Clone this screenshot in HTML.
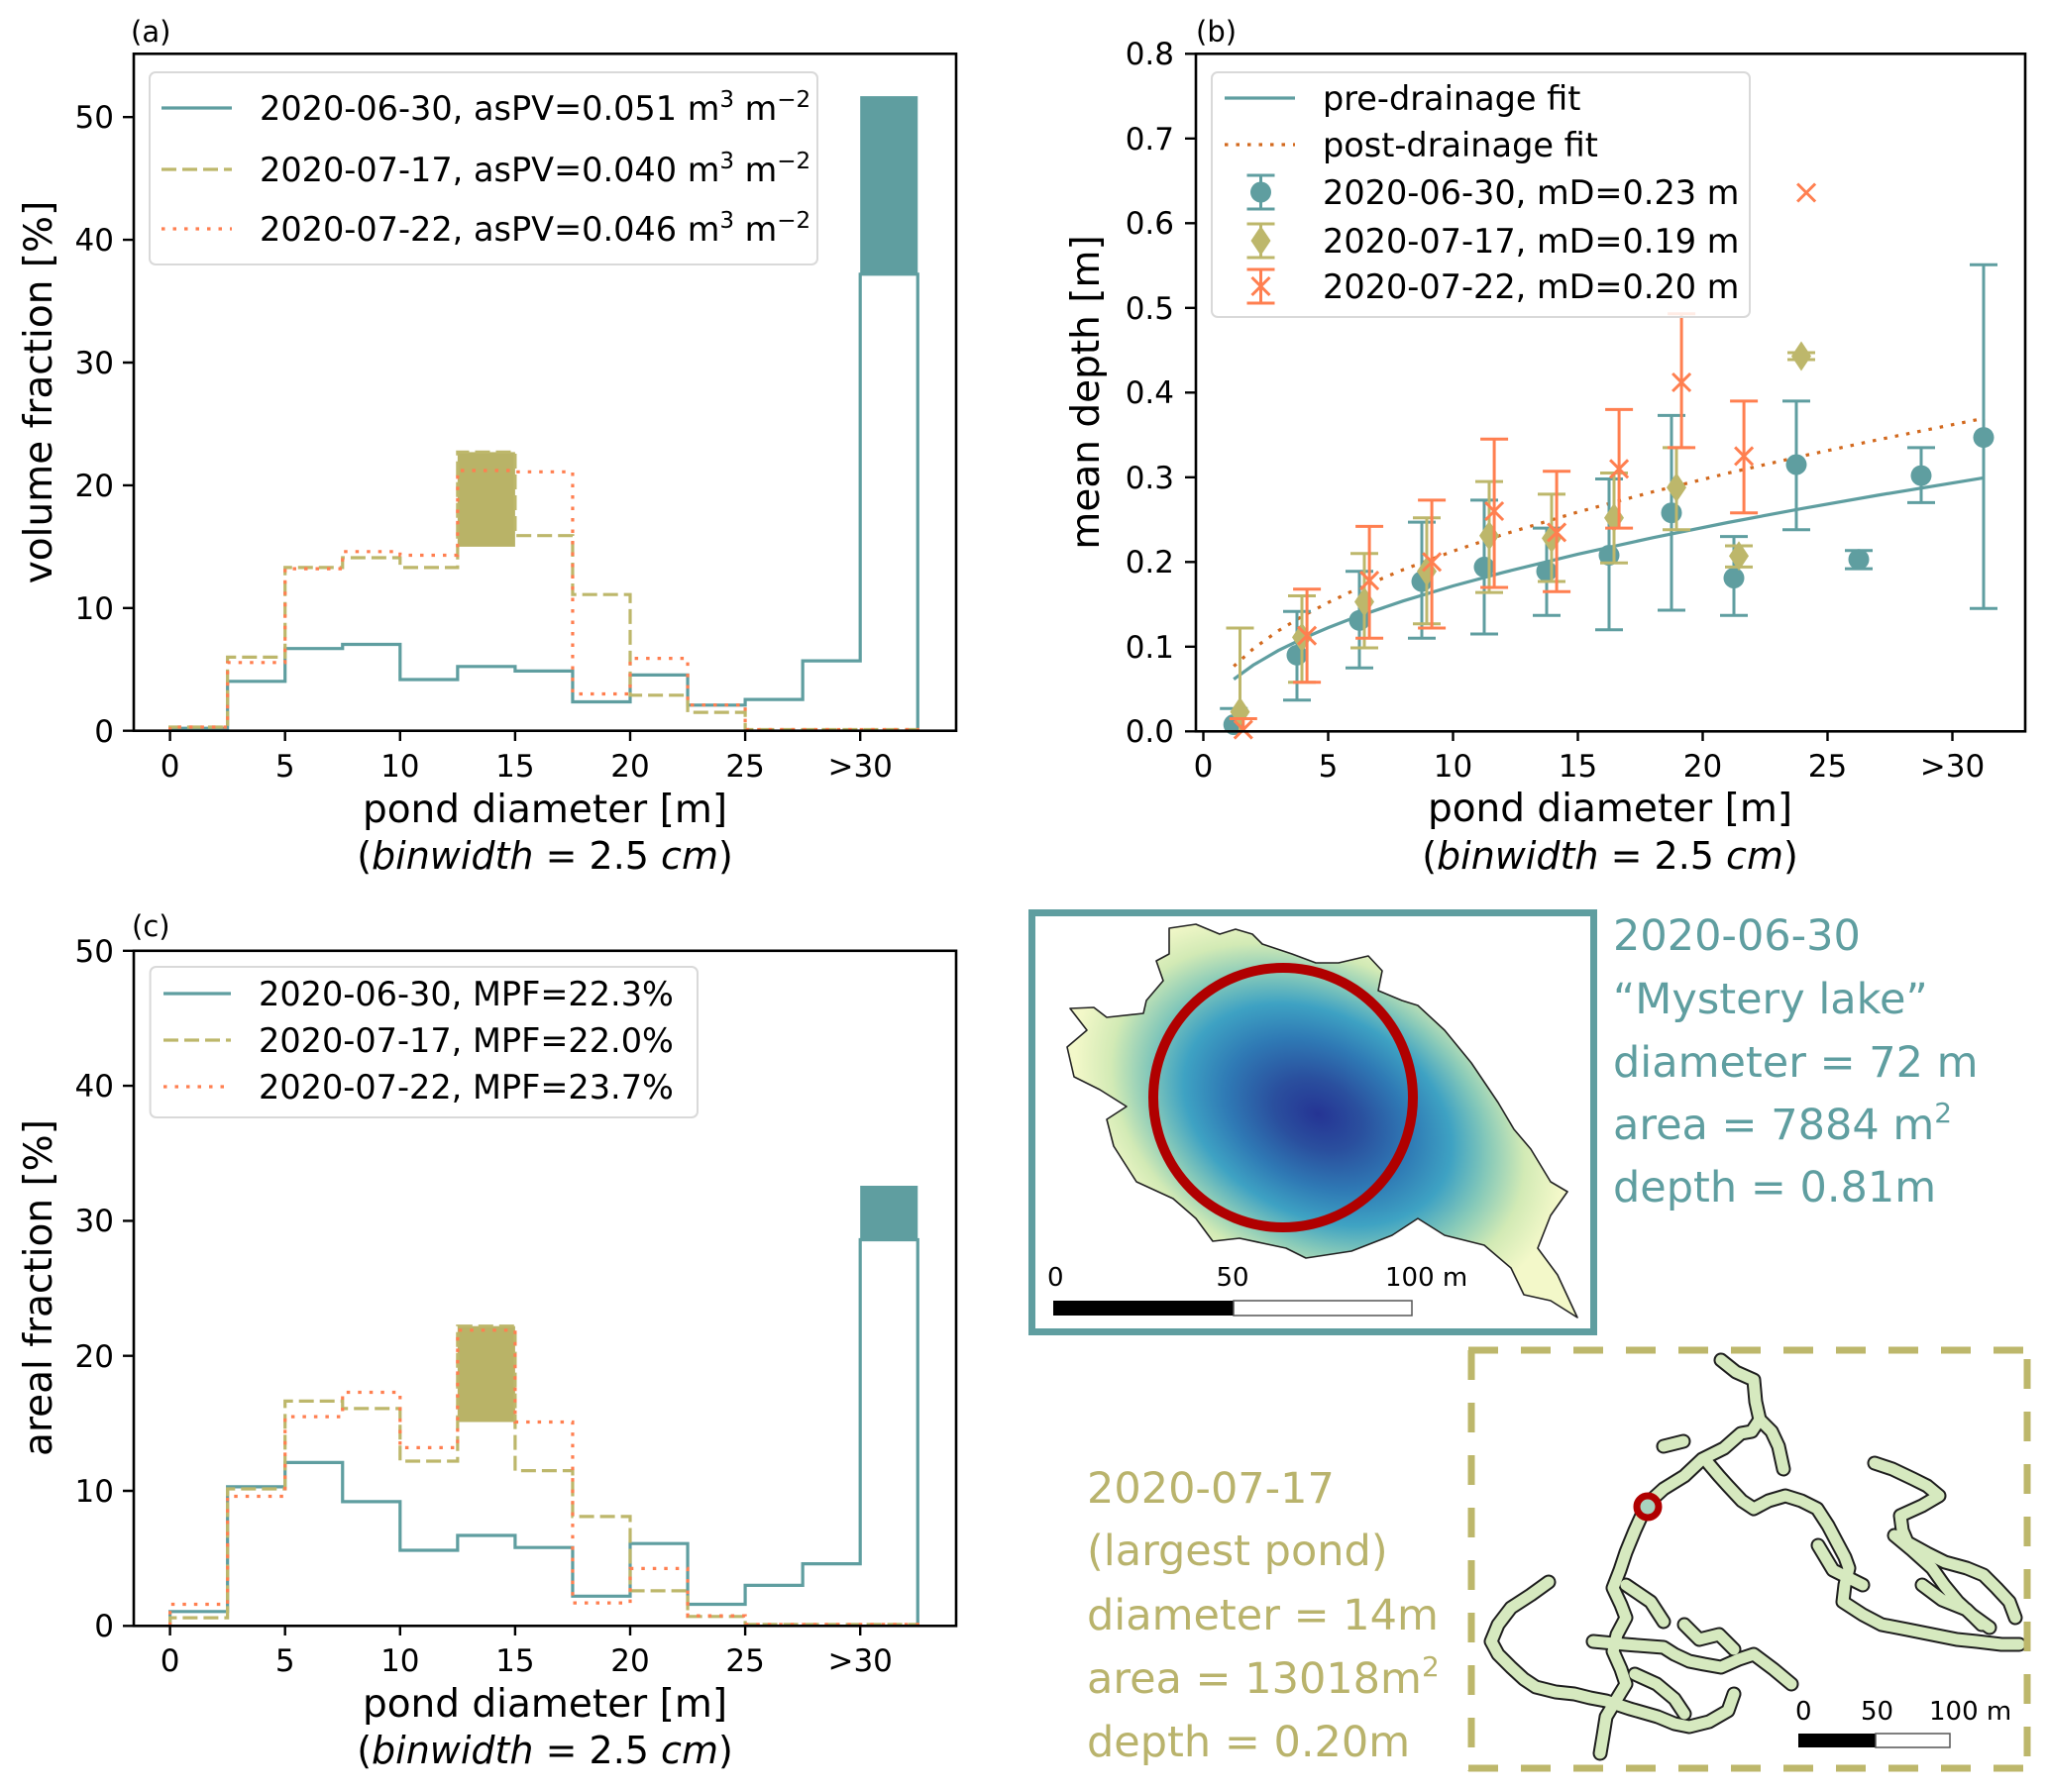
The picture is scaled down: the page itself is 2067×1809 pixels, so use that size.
<!DOCTYPE html>
<html><head><meta charset="utf-8"><style>
html,body{margin:0;padding:0;background:#fff;}
svg{display:block;}
text{font-family:"DejaVu Sans","Liberation Sans",sans-serif;}
</style></head><body>
<svg width="2067" height="1809" viewBox="0 0 2067 1809" xmlns="http://www.w3.org/2000/svg">
<defs>
<path id="dia" d="M0,-15L10,0L0,15L-10,0Z" fill="#bdb76b"/>
<path id="xm" d="M-9,-9L9,9M-9,9L9,-9" stroke="#ff7f50" stroke-width="3" fill="none"/>
<radialGradient id="g1" gradientUnits="userSpaceOnUse" cx="1330" cy="1125" r="200" gradientTransform="translate(1330 1125) rotate(28) scale(1.3 0.92) translate(-1330 -1125)">
<stop offset="0" stop-color="#253494"/><stop offset="0.18" stop-color="#2a4f9e"/><stop offset="0.38" stop-color="#2f7ab5"/><stop offset="0.55" stop-color="#3ea2c3"/><stop offset="0.7" stop-color="#86c9b9"/><stop offset="0.85" stop-color="#d2eab5"/><stop offset="1" stop-color="#f3f8c9"/>
</radialGradient>
</defs>
<rect width="2067" height="1809" fill="#fff"/>

<!-- ================= PANEL (a) ================= -->
<text x="132" y="42" font-size="29">(a)</text>
<g fill="none" stroke-width="3.2">
<rect x="868.2" y="97.1" width="58.05" height="179.7" fill="#5f9ea0" stroke="none"/>
<path d="M171.6,737.7 V735.2 H229.65 V687.8 H287.7 V654.7 H345.75 V650.5 H403.8 V686.0 H461.85 V672.8 H519.9 V677.4 H577.95 V708.5 H636 V681.4 H694.05 V711.8 H752.1 V706.1 H810.15 V667.1 H868.2 V276.8 H926.25 V737.7" stroke="#5f9ea0"/>
<rect x="461.85" y="456.4" width="58.05" height="95.5" fill="#b9b367" stroke="none"/>
<path d="M171.6,737.7 V734.0 H229.65 V663.4 H287.7 V572.9 H345.75 V563.0 H403.8 V572.9 H461.85 V456.4 H519.9 V540.7 H577.95 V600.2 H636 V701.8 H694.05 V719.1 H752.1 V736.5 H926.25 V737.7" stroke="#bdb76b" stroke-dasharray="15 6"/>
<path d="M171.6,737.7 V734.0 H229.65 V668.8 H287.7 V574.1 H345.75 V556.8 H403.8 V560.5 H461.85 V475.0 H519.9 V476.3 H577.95 V700.5 H636 V664.6 H694.05 V711.7 H752.1 V736.5 H926.25 V737.7" stroke="#ff7f50" stroke-dasharray="3.5 8"/>
</g>
<rect x="135" y="54.3" width="830" height="683.4" fill="none" stroke="#000" stroke-width="2.6"/>
<g stroke="#000" stroke-width="2.4">
<path d="M171.6,738v10M287.7,738v10M403.8,738v10M519.9,738v10M636,738v10M752.1,738v10M868.2,738v10"/>
<path d="M124,737.7h11M124,613.8h11M124,489.9h11M124,366h11M124,242.1h11M124,118.2h11"/>
</g>
<g font-size="31" text-anchor="middle">
<text x="171.6" y="784">0</text><text x="287.7" y="784">5</text><text x="403.8" y="784">10</text><text x="519.9" y="784">15</text><text x="636" y="784">20</text><text x="752.1" y="784">25</text><text x="868.2" y="784">&gt;30</text>
</g>
<g font-size="31" text-anchor="end">
<text x="115" y="749">0</text><text x="115" y="625">10</text><text x="115" y="501">20</text><text x="115" y="377">30</text><text x="115" y="253">40</text><text x="115" y="129">50</text>
</g>
<text x="550" y="830" font-size="39" text-anchor="middle">pond diameter [m]</text>
<text x="550" y="877" font-size="38" text-anchor="middle">(<tspan font-style="italic">binwidth</tspan> = 2.5 <tspan font-style="italic">cm</tspan>)</text>
<text transform="translate(52 396) rotate(-90)" font-size="39" text-anchor="middle">volume fraction [%]</text>
<rect x="151" y="73" width="674" height="194" rx="6" fill="#fff" fill-opacity="0.85" stroke="#d9d9d9" stroke-width="2"/>
<path d="M163,109H234" stroke="#5f9ea0" stroke-width="3.2"/>
<path d="M163,171H234" stroke="#bdb76b" stroke-width="3.2" stroke-dasharray="15 6"/>
<path d="M163,231H234" stroke="#ff7f50" stroke-width="3.2" stroke-dasharray="3.5 8"/>
<g font-size="33.5">
<text x="262" y="121">2020-06-30, asPV=0.051 m<tspan font-size="23" dy="-13">3</tspan><tspan dy="13"> m</tspan><tspan font-size="23" dy="-13">−2</tspan></text>
<text x="262" y="183">2020-07-17, asPV=0.040 m<tspan font-size="23" dy="-13">3</tspan><tspan dy="13"> m</tspan><tspan font-size="23" dy="-13">−2</tspan></text>
<text x="262" y="243">2020-07-22, asPV=0.046 m<tspan font-size="23" dy="-13">3</tspan><tspan dy="13"> m</tspan><tspan font-size="23" dy="-13">−2</tspan></text>
</g>

<!-- ================= PANEL (b) ================= -->
<text x="1207" y="42" font-size="29">(b)</text>
<polyline fill="none" stroke="#5f9ea0" stroke-width="3.2" points="1245.2,685.7 1264.9,671.4 1290.1,656.7 1315.3,644.4 1340.5,633.6 1365.7,623.9 1416.1,606.7 1466.5,591.5 1516.9,577.9 1592.5,559.4 1668.1,542.8 1743.7,527.5 1819.3,513.3 1894.9,500 2003.3,482.2"/>
<polyline fill="none" stroke="#d2691e" stroke-width="3.2" stroke-dasharray="3.5 8" points="1245.2,672.6 1264.9,654.9 1290.1,636.8 1315.3,621.6 1340.5,608.3 1365.7,596.3 1416.1,575.1 1466.5,556.4 1516.9,539.6 1592.5,516.9 1668.1,496.5 1743.7,477.7 1819.3,460.3 1894.9,444 2003.3,422.1"/>
<g stroke="#5f9ea0" stroke-width="3" fill="none">
<path d="M1245.2,738.3V715.2M1231.2,715.2h28"/>
<path d="M1309,706.7V617.3M1295,706.7h28M1295,617.3h28"/>
<path d="M1372,674.2V576.7M1358,674.2h28M1358,576.7h28"/>
<path d="M1435,644.3V527.1M1421,644.3h28M1421,527.1h28"/>
<path d="M1498,640V504.9M1484,640h28M1484,504.9h28"/>
<path d="M1561,621.2V533.1M1547,621.2h28M1547,533.1h28"/>
<path d="M1624,635.7V483.5M1610,635.7h28M1610,483.5h28"/>
<path d="M1687,616V419.4M1673,616h28M1673,419.4h28"/>
<path d="M1750,621.2V541.6M1736,621.2h28M1736,541.6h28"/>
<path d="M1813,534.8V404.9M1799,534.8h28M1799,404.9h28"/>
<path d="M1876,574.1V555.8M1862,574.1h28M1862,555.8h28"/>
<path d="M1939,507.4V451.9M1925,507.4h28M1925,451.9h28"/>
<path d="M2002,614.3V267.2M1988,614.3h28M1988,267.2h28"/>
</g>
<g fill="#5f9ea0">
<circle cx="1245.2" cy="731.5" r="10.5"/><circle cx="1309" cy="661.35" r="10.5"/><circle cx="1372" cy="626.3" r="10.5"/><circle cx="1435" cy="587" r="10.5"/><circle cx="1498" cy="572.4" r="10.5"/><circle cx="1561" cy="576.7" r="10.5"/><circle cx="1624" cy="560.5" r="10.5"/><circle cx="1687" cy="517.7" r="10.5"/><circle cx="1750" cy="583.5" r="10.5"/><circle cx="1813" cy="469" r="10.5"/><circle cx="1876" cy="564.7" r="10.5"/><circle cx="1939" cy="480.1" r="10.5"/><circle cx="2002" cy="441.6" r="10.5"/>
</g>
<g stroke="#bdb76b" stroke-width="3" fill="none">
<path d="M1251.5,738.3V634M1237.5,634h28"/>
<path d="M1314,688.7V601.5M1300,688.7h28M1300,601.5h28"/>
<path d="M1377,654V558.8M1363,654h28M1363,558.8h28"/>
<path d="M1440,629.7V522.8M1426,629.7h28M1426,522.8h28"/>
<path d="M1503,598.1V486.1M1489,598.1h28M1489,486.1h28"/>
<path d="M1566,587V498.9M1552,587h28M1552,498.9h28"/>
<path d="M1629,568.2V477.5M1615,568.2h28M1615,477.5h28"/>
<path d="M1692,534.8V451.9M1678,534.8h28M1678,451.9h28"/>
<path d="M1755,572.4V551M1741,572.4h28M1741,551h28"/>
<path d="M1818,363V356M1804,363h28M1804,356h28"/>
</g>
<use href="#dia" x="1251.5" y="718.6"/><use href="#dia" x="1314" y="643.4"/><use href="#dia" x="1377" y="607.5"/><use href="#dia" x="1440" y="576.7"/><use href="#dia" x="1503" y="540.8"/><use href="#dia" x="1566" y="543.4"/><use href="#dia" x="1629" y="522.8"/><use href="#dia" x="1692" y="492.1"/><use href="#dia" x="1755" y="561.3"/><use href="#dia" x="1818" y="359.5"/>
<g stroke="#ff7f50" stroke-width="3" fill="none">
<path d="M1254.8,738.3V725.5M1240.8,725.5h28"/>
<path d="M1319.1,688.7V594.7M1305.1,688.7h28M1305.1,594.7h28"/>
<path d="M1382.1,644.3V531.4M1368.1,644.3h28M1368.1,531.4h28"/>
<path d="M1445.1,634V504.9M1431.1,634h28M1431.1,504.9h28"/>
<path d="M1508.1,593V443.3M1494.1,593h28M1494.1,443.3h28"/>
<path d="M1571.1,597.2V475.8M1557.1,597.2h28M1557.1,475.8h28"/>
<path d="M1634.1,533.1V413.4M1620.1,533.1h28M1620.1,413.4h28"/>
<path d="M1697.1,451.9V316.8M1683.1,451.9h28M1683.1,316.8h28"/>
<path d="M1760.1,517.7V404.9M1746.1,517.7h28M1746.1,404.9h28"/>
</g>
<use href="#xm" x="1254.8" y="736.6"/><use href="#xm" x="1319.1" y="641.7"/><use href="#xm" x="1382.1" y="586.1"/><use href="#xm" x="1445.1" y="567.3"/><use href="#xm" x="1508.1" y="516"/><use href="#xm" x="1571.1" y="537.4"/><use href="#xm" x="1634.1" y="473.3"/><use href="#xm" x="1697.1" y="386"/><use href="#xm" x="1760.1" y="460.4"/><use href="#xm" x="1823.1" y="194.5"/>
<rect x="1207" y="54.3" width="837" height="684" fill="none" stroke="#000" stroke-width="2.6"/>
<g stroke="#000" stroke-width="2.4">
<path d="M1214.5,738v10M1340.5,738v10M1466.5,738v10M1592.5,738v10M1718.5,738v10M1844.5,738v10M1970.5,738v10"/>
<path d="M1196,738.3h11M1196,652.8h11M1196,567.3h11M1196,481.8h11M1196,396.3h11M1196,310.8h11M1196,225.3h11M1196,139.8h11M1196,54.3h11"/>
</g>
<g font-size="31" text-anchor="middle">
<text x="1214.5" y="784">0</text><text x="1340.5" y="784">5</text><text x="1466.5" y="784">10</text><text x="1592.5" y="784">15</text><text x="1718.5" y="784">20</text><text x="1844.5" y="784">25</text><text x="1970.5" y="784">&gt;30</text>
</g>
<g font-size="31" text-anchor="end">
<text x="1185" y="749">0.0</text><text x="1185" y="664">0.1</text><text x="1185" y="578">0.2</text><text x="1185" y="493">0.3</text><text x="1185" y="407">0.4</text><text x="1185" y="322">0.5</text><text x="1185" y="236">0.6</text><text x="1185" y="151">0.7</text><text x="1185" y="65">0.8</text>
</g>
<text x="1625" y="829" font-size="39" text-anchor="middle">pond diameter [m]</text>
<text x="1625" y="877" font-size="38" text-anchor="middle">(<tspan font-style="italic">binwidth</tspan> = 2.5 <tspan font-style="italic">cm</tspan>)</text>
<text transform="translate(1109 396) rotate(-90)" font-size="39" text-anchor="middle">mean depth [m]</text>
<rect x="1223" y="73" width="543" height="247" rx="6" fill="#fff" fill-opacity="0.85" stroke="#d9d9d9" stroke-width="2"/>
<path d="M1236,99H1307" stroke="#5f9ea0" stroke-width="3.2"/>
<path d="M1236,146H1307" stroke="#d2691e" stroke-width="3.2" stroke-dasharray="3.5 8"/>
<path d="M1272.5,177V211M1258.5,177h28M1258.5,211h28" stroke="#5f9ea0" stroke-width="3" fill="none"/>
<circle cx="1272.5" cy="194" r="10.5" fill="#5f9ea0"/>
<path d="M1272.5,226V260M1258.5,226h28M1258.5,260h28" stroke="#bdb76b" stroke-width="3" fill="none"/>
<use href="#dia" x="1272.5" y="243"/>
<path d="M1272.5,272V306M1258.5,272h28M1258.5,306h28" stroke="#ff7f50" stroke-width="3" fill="none"/>
<use href="#xm" x="1272.5" y="289"/>
<g font-size="33.5">
<text x="1335" y="111">pre-drainage fit</text>
<text x="1335" y="158">post-drainage fit</text>
<text x="1335" y="206">2020-06-30, mD=0.23 m</text>
<text x="1335" y="255">2020-07-17, mD=0.19 m</text>
<text x="1335" y="301">2020-07-22, mD=0.20 m</text>
</g>

<!-- ================= PANEL (c) ================= -->
<text x="133" y="945" font-size="29">(c)</text>
<g fill="none" stroke-width="3.2">
<rect x="868.2" y="1197" width="58.05" height="54.5" fill="#5f9ea0" stroke="none"/>
<path d="M171.6,1641.3 V1626.8 H229.65 V1500.9 H287.7 V1476.4 H345.75 V1515.9 H403.8 V1565.0 H461.85 V1550.0 H519.9 V1562.2 H577.95 V1611.3 H636 V1558.2 H694.05 V1619.5 H752.1 V1600.4 H810.15 V1578.6 H868.2 V1251.5 H926.25 V1641.3" stroke="#5f9ea0"/>
<rect x="461.85" y="1338.7" width="58.05" height="96.8" fill="#b9b367" stroke="none"/>
<path d="M171.6,1641.3 V1633.1 H229.65 V1503.0 H287.7 V1414.4 H345.75 V1421.9 H403.8 V1475.0 H461.85 V1338.7 H519.9 V1484.6 H577.95 V1530.9 H636 V1605.9 H694.05 V1631.8 H752.1 V1639.9 H926.25 V1641.3" stroke="#bdb76b" stroke-dasharray="15 6"/>
<path d="M171.6,1641.3 V1619.5 H229.65 V1510.5 H287.7 V1430.1 H345.75 V1405.5 H403.8 V1461.4 H461.85 V1342.8 H519.9 V1435.5 H577.95 V1618.1 H636 V1583.4 H694.05 V1631.1 H752.1 V1639.9 H926.25 V1641.3" stroke="#ff7f50" stroke-dasharray="3.5 8"/>
</g>
<rect x="135" y="959.8" width="830" height="681.5" fill="none" stroke="#000" stroke-width="2.6"/>
<g stroke="#000" stroke-width="2.4">
<path d="M171.6,1641v10M287.7,1641v10M403.8,1641v10M519.9,1641v10M636,1641v10M752.1,1641v10M868.2,1641v10"/>
<path d="M124,1641.3h11M124,1505h11M124,1368.7h11M124,1232.4h11M124,1096.1h11M124,959.8h11"/>
</g>
<g font-size="31" text-anchor="middle">
<text x="171.6" y="1687">0</text><text x="287.7" y="1687">5</text><text x="403.8" y="1687">10</text><text x="519.9" y="1687">15</text><text x="636" y="1687">20</text><text x="752.1" y="1687">25</text><text x="868.2" y="1687">&gt;30</text>
</g>
<g font-size="31" text-anchor="end">
<text x="115" y="1652">0</text><text x="115" y="1516">10</text><text x="115" y="1380">20</text><text x="115" y="1243">30</text><text x="115" y="1107">40</text><text x="115" y="971">50</text>
</g>
<text x="550" y="1733" font-size="39" text-anchor="middle">pond diameter [m]</text>
<text x="550" y="1780" font-size="38" text-anchor="middle">(<tspan font-style="italic">binwidth</tspan> = 2.5 <tspan font-style="italic">cm</tspan>)</text>
<text transform="translate(52 1300) rotate(-90)" font-size="39" text-anchor="middle">areal fraction [%]</text>
<rect x="151.6" y="976" width="552.4" height="152" rx="6" fill="#fff" fill-opacity="0.85" stroke="#d9d9d9" stroke-width="2"/>
<path d="M165,1003H233" stroke="#5f9ea0" stroke-width="3.2"/>
<path d="M165,1050H233" stroke="#bdb76b" stroke-width="3.2" stroke-dasharray="15 6"/>
<path d="M165,1097H233" stroke="#ff7f50" stroke-width="3.2" stroke-dasharray="3.5 8"/>
<g font-size="33.5">
<text x="261" y="1015">2020-06-30, MPF=22.3%</text>
<text x="261" y="1062">2020-07-17, MPF=22.0%</text>
<text x="261" y="1109">2020-07-22, MPF=23.7%</text>
</g>

<!-- ================= INSET 1 ================= -->
<polygon points="1180,937 1207,933 1231,943 1247,938 1264,943 1274,953 1304,963 1328,972 1351,972 1381,965 1395,980 1391,1000 1415,1010 1431,1015 1458,1040 1485,1073 1512,1113 1528,1140 1545,1160 1565,1193 1582,1203 1565,1227 1552,1260 1572,1287 1592,1330 1565,1313 1538,1307 1525,1280 1498,1257 1458,1247 1431,1230 1405,1247 1364,1263 1318,1270 1298,1260 1251,1250 1224,1253 1207,1230 1184,1210 1147,1193 1124,1157 1117,1130 1137,1117 1110,1100 1084,1087 1077,1057 1097,1040 1080,1018 1104,1017 1117,1027 1154,1023 1157,1010 1174,990 1167,970 1180,963" fill="url(#g1)" stroke="#222" stroke-width="1.6" stroke-linejoin="round"/>
<circle cx="1295" cy="1108" r="131" fill="none" stroke="#b00000" stroke-width="10"/>
<rect x="1063" y="1313" width="182" height="15" fill="#000"/>
<rect x="1245" y="1313" width="180" height="15" fill="#fff" stroke="#555" stroke-width="1.5"/>
<g font-size="26">
<text x="1057" y="1298">0</text>
<text x="1244" y="1298" text-anchor="middle">50</text>
<text x="1398" y="1298">100 m</text>
</g>
<rect x="1041.5" y="921.5" width="567" height="423" fill="none" stroke="#5f9ea0" stroke-width="7"/>
<g font-size="43" style="fill:#5f9ea0">
<text x="1628" y="959" style="fill:#5f9ea0">2020-06-30</text>
<text x="1628" y="1023" style="fill:#5f9ea0">“Mystery lake”</text>
<text x="1628" y="1087" style="fill:#5f9ea0">diameter = 72 m</text>
<text x="1628" y="1150" style="fill:#5f9ea0">area = 7884 m<tspan font-size="28" dy="-17">2</tspan></text>
<text x="1628" y="1213" style="fill:#5f9ea0">depth = 0.81m</text>
</g>

<!-- ================= INSET 2 ================= -->
<g fill="none" stroke-linejoin="round" stroke-linecap="round">
<g stroke="#1e1e1e" stroke-width="15">
<polyline points="1737,1373 1752,1385 1770,1393 1772,1415 1776,1433 1768,1445 1757,1447 1740,1462 1718,1473 1700,1490 1679,1503 1668,1513 1660,1523 1650,1545 1641,1567 1635,1585 1628,1603 1636,1620 1641,1633 1632,1650 1628,1667 1636,1685 1641,1700 1630,1718 1621,1733 1618,1752 1615,1770"/>
<polyline points="1776,1433 1788,1445 1795,1460 1800,1483"/>
<polyline points="1724,1477 1735,1490 1744,1500 1758,1515 1770,1523 1785,1515 1802,1510 1818,1515 1834,1523 1845,1540 1854,1557 1862,1572 1866,1583 1862,1600 1860,1617 1880,1630 1899,1640 1925,1645 1950,1650 1975,1655 1995,1657 2020,1660 2038,1660"/>
<polyline points="1892,1477 1910,1483 1931,1493 1945,1500 1957,1510 1940,1520 1918,1530 1920,1545 1925,1557 1945,1568 1963,1577 1985,1583 2002,1590 2015,1603 2028,1617 2034,1633"/>
<polyline points="1912,1550 1930,1565 1950,1583 1962,1600 1976,1617 1990,1630 2008,1643"/>
<polyline points="1563,1597 1545,1610 1525,1623 1512,1640 1505,1657 1512,1670 1525,1683 1538,1695 1550,1703 1570,1708 1589,1710 1605,1714 1621,1717 1645,1725 1673,1733 1690,1740 1705,1743 1725,1738 1744,1727 1750,1710"/>
<polyline points="1608,1657 1640,1660 1679,1663 1690,1670 1705,1677 1720,1680 1737,1683 1755,1675 1770,1670 1790,1685 1808,1700"/>
<polyline points="1641,1600 1666,1617 1679,1637"/>
<polyline points="1679,1460 1699,1455"/>
<polyline points="1650,1690 1672,1700 1690,1715 1700,1730"/>
<polyline points="1700,1640 1715,1655 1735,1650 1750,1665"/>
<polyline points="1940,1600 1960,1615 1985,1625 2000,1640"/>
<polyline points="1835,1560 1850,1585 1880,1600"/>
</g>
<g stroke="#d6e9bf" stroke-width="11">
<polyline points="1737,1373 1752,1385 1770,1393 1772,1415 1776,1433 1768,1445 1757,1447 1740,1462 1718,1473 1700,1490 1679,1503 1668,1513 1660,1523 1650,1545 1641,1567 1635,1585 1628,1603 1636,1620 1641,1633 1632,1650 1628,1667 1636,1685 1641,1700 1630,1718 1621,1733 1618,1752 1615,1770"/>
<polyline points="1776,1433 1788,1445 1795,1460 1800,1483"/>
<polyline points="1724,1477 1735,1490 1744,1500 1758,1515 1770,1523 1785,1515 1802,1510 1818,1515 1834,1523 1845,1540 1854,1557 1862,1572 1866,1583 1862,1600 1860,1617 1880,1630 1899,1640 1925,1645 1950,1650 1975,1655 1995,1657 2020,1660 2038,1660"/>
<polyline points="1892,1477 1910,1483 1931,1493 1945,1500 1957,1510 1940,1520 1918,1530 1920,1545 1925,1557 1945,1568 1963,1577 1985,1583 2002,1590 2015,1603 2028,1617 2034,1633"/>
<polyline points="1912,1550 1930,1565 1950,1583 1962,1600 1976,1617 1990,1630 2008,1643"/>
<polyline points="1563,1597 1545,1610 1525,1623 1512,1640 1505,1657 1512,1670 1525,1683 1538,1695 1550,1703 1570,1708 1589,1710 1605,1714 1621,1717 1645,1725 1673,1733 1690,1740 1705,1743 1725,1738 1744,1727 1750,1710"/>
<polyline points="1608,1657 1640,1660 1679,1663 1690,1670 1705,1677 1720,1680 1737,1683 1755,1675 1770,1670 1790,1685 1808,1700"/>
<polyline points="1641,1600 1666,1617 1679,1637"/>
<polyline points="1679,1460 1699,1455"/>
<polyline points="1650,1690 1672,1700 1690,1715 1700,1730"/>
<polyline points="1700,1640 1715,1655 1735,1650 1750,1665"/>
<polyline points="1940,1600 1960,1615 1985,1625 2000,1640"/>
<polyline points="1835,1560 1850,1585 1880,1600"/>
</g>
</g>
<circle cx="1663" cy="1521" r="11" fill="#a9d3bf" stroke="#b00000" stroke-width="7"/>
<rect x="1815" y="1750" width="78" height="14" fill="#000"/>
<rect x="1893" y="1750" width="75" height="14" fill="#fff" stroke="#555" stroke-width="1.5"/>
<g font-size="26">
<text x="1812" y="1736">0</text>
<text x="1878" y="1736">50</text>
<text x="1947" y="1736">100 m</text>
</g>
<g stroke="#bdb76b" stroke-width="7" stroke-dasharray="30 23" fill="none">
<path d="M1482,1363H2049"/>
<path d="M1482,1785H2049"/>
<path d="M1485,1363V1788"/>
<path d="M2046,1372V1788"/>
</g>
<g font-size="43" style="fill:#b9b36c">
<text x="1097" y="1517" style="fill:#b9b36c">2020-07-17</text>
<text x="1097" y="1580" style="fill:#b9b36c">(largest pond)</text>
<text x="1097" y="1645" style="fill:#b9b36c">diameter = 14m</text>
<text x="1097" y="1709" style="fill:#b9b36c">area = 13018m<tspan font-size="28" dy="-17">2</tspan></text>
<text x="1097" y="1773" style="fill:#b9b36c">depth = 0.20m</text>
</g>
</svg>
</body></html>
